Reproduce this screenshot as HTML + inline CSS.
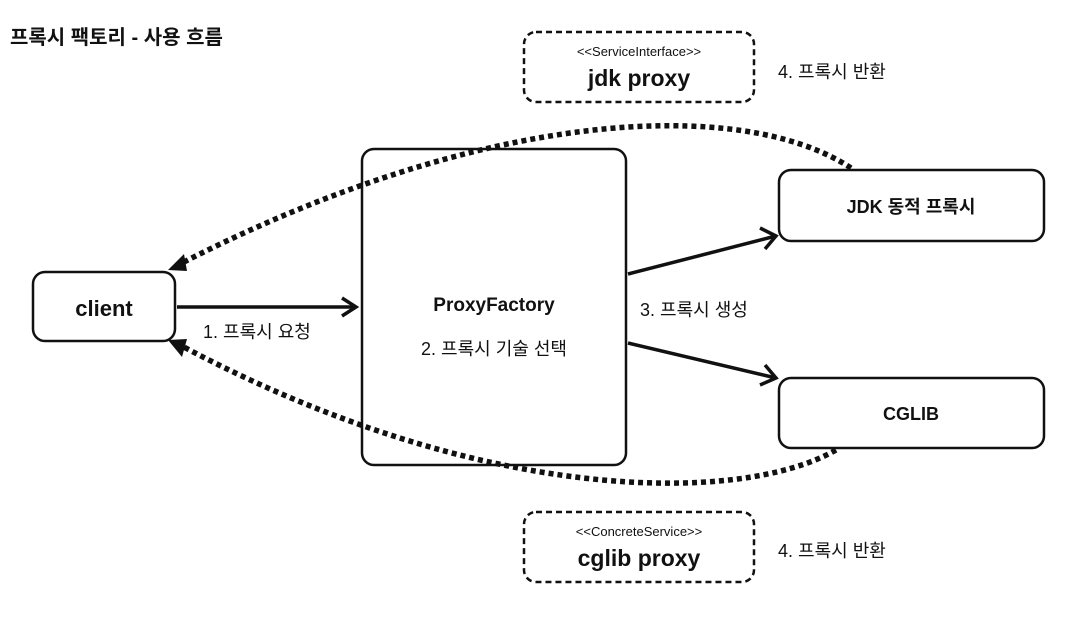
<!DOCTYPE html>
<html><head><meta charset="utf-8"><style>
body{margin:0;background:#fff;}
svg text{font-family:"Liberation Sans","Noto Sans CJK KR",sans-serif;fill:#111;}
</style></head><body>
<svg width="1074" height="618" viewBox="0 0 1074 618" xmlns="http://www.w3.org/2000/svg">
<text x="10" y="44" font-size="20" font-weight="bold">프록시 팩토리 - 사용 흐름</text>

<rect x="524" y="32" width="230" height="70" rx="12" fill="none" stroke="#111" stroke-width="2.5" stroke-dasharray="6,4"/>
<text x="639" y="56" font-size="13" text-anchor="middle">&lt;&lt;ServiceInterface&gt;&gt;</text>
<text x="639" y="86" font-size="23" font-weight="bold" text-anchor="middle">jdk proxy</text>
<text x="778" y="78" font-size="18">4. 프록시 반환</text>

<rect x="524" y="512" width="230" height="70" rx="12" fill="none" stroke="#111" stroke-width="2.5" stroke-dasharray="6,4"/>
<text x="639" y="536" font-size="13" text-anchor="middle">&lt;&lt;ConcreteService&gt;&gt;</text>
<text x="639" y="566" font-size="23" font-weight="bold" text-anchor="middle">cglib proxy</text>
<text x="778" y="557" font-size="18">4. 프록시 반환</text>

<rect x="33" y="272" width="142" height="69" rx="12" fill="#fff" stroke="#111" stroke-width="2.5"/>
<text x="104" y="316" font-size="22" font-weight="bold" text-anchor="middle">client</text>

<rect x="362" y="149" width="264" height="316" rx="12" fill="none" stroke="#111" stroke-width="2.5"/>
<text x="494" y="311" font-size="19" font-weight="bold" text-anchor="middle">ProxyFactory</text>
<text x="494" y="355" font-size="18" text-anchor="middle">2. 프록시 기술 선택</text>

<rect x="779" y="170" width="265" height="71" rx="12" fill="#fff" stroke="#111" stroke-width="2.5"/>
<text x="911" y="213" font-size="18" font-weight="bold" text-anchor="middle">JDK 동적 프록시</text>
<rect x="779" y="378" width="265" height="70" rx="12" fill="#fff" stroke="#111" stroke-width="2.5"/>
<text x="911" y="420" font-size="18" font-weight="bold" text-anchor="middle">CGLIB</text>

<text x="203" y="338" font-size="18">1. 프록시 요청</text>
<text x="640" y="316" font-size="18">3. 프록시 생성</text>

<g stroke="#111" stroke-width="3.5" fill="none">
<line x1="177" y1="307" x2="355" y2="307"/>
<polyline points="342,298 356,307 342,316"/>
<line x1="628" y1="274" x2="776" y2="236"/>
<polyline points="760,228 776,236 765,249"/>
<line x1="628" y1="343" x2="776" y2="378"/>
<polyline points="765,365 776,378 760,385"/>
</g>
<g stroke="#111" stroke-width="5.5" fill="none" stroke-dasharray="5,4">
<path d="M851,168 C740,95 480,110 180,264"/>
<path d="M836,450 C740,505 480,505 180,345"/>
</g>
<polygon points="168,270 184,254 187,271" fill="#111"/>
<polygon points="168,340 187,339 182,357" fill="#111"/>
</svg>
</body></html>
